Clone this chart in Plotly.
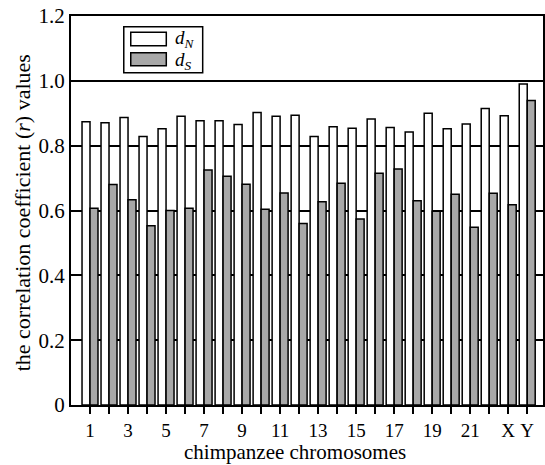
import plotly.graph_objects as go

chromosomes = ["1","2","3","4","5","6","7","8","9","10","11","12","13","14","15","16","17","18","19","20","21","22","X","Y"]
tick_labels = ["1","","3","","5","","7","","9","","11","","13","","15","","17","","19","","21","","X","Y"]
dN = [0.874,0.871,0.887,0.828,0.852,0.891,0.877,0.877,0.865,0.902,0.891,0.894,
      0.828,0.858,0.854,0.882,0.856,0.842,0.900,0.852,0.867,0.915,0.892,0.990]
dS = [0.607,0.680,0.633,0.553,0.600,0.607,0.725,0.706,0.681,0.604,0.654,0.560,
      0.627,0.684,0.574,0.715,0.728,0.630,0.598,0.650,0.548,0.653,0.618,0.939]

xpos = list(range(1, len(chromosomes) + 1))
FONT = "Liberation Serif"

fig = go.Figure()
fig.add_trace(go.Bar(x=xpos, y=dN, name="d<sub>N</sub>", marker=dict(color="white", line=dict(color="black", width=1.5)),
                     hovertext=chromosomes))
fig.add_trace(go.Bar(x=xpos, y=dS, name="d<sub>S</sub>", marker=dict(color="#a8a8a8", line=dict(color="black", width=1.5)),
                     hovertext=chromosomes))

fig.update_layout(
    width=545, height=465,
    margin=dict(l=71, r=0, t=16, b=60),
    paper_bgcolor="white", plot_bgcolor="white",
    barmode="group", bargap=0.16, bargroupgap=0,
    showlegend=False,
    font=dict(family=FONT, color="black", size=18),
)
fig.update_xaxes(
    range=[0, 24.83], tickvals=xpos, ticktext=tick_labels,
    ticks="outside", ticklen=7, tickwidth=1.5, tickcolor="black",
    showline=True, linecolor="black", linewidth=2, mirror=True,
    showgrid=False, zeroline=False, tickfont=dict(family=FONT, size=19),
)
fig.update_yaxes(
    range=[0, 1.2], tickvals=[0,0.2,0.4,0.6,0.8,1.0,1.2],
    ticktext=["0","0.2","0.4","0.6","0.8","1.0","1.2"],
    showgrid=True, gridcolor="black", gridwidth=1.8,
    showline=True, linecolor="black", linewidth=2, mirror=True,
    zeroline=False, ticks="", tickfont=dict(family=FONT, size=21),
)

# legend drawn as a boxed key
shapes = [
    dict(type="rect", xref="paper", yref="paper", x0=0.1118, x1=0.279, y0=0.854, y1=0.9725,
         line=dict(color="black", width=1.5), fillcolor="white", layer="above"),
    dict(type="rect", xref="paper", yref="paper", x0=0.1266, x1=0.2019, y0=0.9237, y1=0.958,
         line=dict(color="black", width=1.5), fillcolor="white", layer="above"),
    dict(type="rect", xref="paper", yref="paper", x0=0.1266, x1=0.2019, y0=0.872, y1=0.9057,
         line=dict(color="black", width=1.5), fillcolor="#a8a8a8", layer="above"),
]
fig.update_layout(shapes=shapes)
fig.add_annotation(xref="paper", yref="paper", x=0.2153, y=0.942, xanchor="left", yanchor="middle",
                   text="<i>d</i><sub><i>N</i></sub>", showarrow=False, font=dict(family=FONT, size=19))
fig.add_annotation(xref="paper", yref="paper", x=0.2153, y=0.884, xanchor="left", yanchor="middle",
                   text="<i>d</i><sub><i>S</i></sub>", showarrow=False, font=dict(family=FONT, size=19))

# axis titles
fig.add_annotation(xref="paper", yref="paper", x=0.475, y=0, yshift=-47, xanchor="center", yanchor="middle",
                   text="chimpanzee chromosomes", showarrow=False, font=dict(family=FONT, size=21))
fig.add_annotation(xref="paper", yref="paper", x=0, xshift=-48.5, y=0.494, xanchor="center", yanchor="middle",
                   text="the correlation coefficient (<i>r</i>) values", textangle=-90, showarrow=False,
                   font=dict(family=FONT, size=22))

fig.write_html("out.html", config={"displayModeBar": False},
               post_script="document.body.style.margin='0';document.body.style.padding='0';")
